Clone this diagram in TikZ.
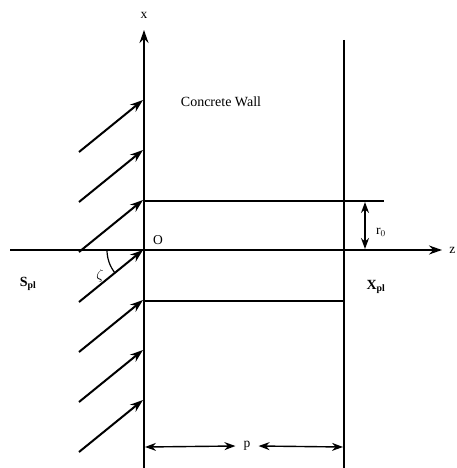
\documentclass[tikz,border=0pt]{standalone}
\usepackage{fontspec}
\setmainfont{Liberation Serif}
\usetikzlibrary{arrows.meta}
\begin{document}
\begin{tikzpicture}[x=1pt,y=-1pt,
  axis/.style={line width=1.8pt,-{Stealth[length=13pt,width=9pt]}},
  wall/.style={line width=1.5pt},
  ray/.style={line width=2pt,-{Stealth[length=13pt,width=9pt]}},
  dim/.style={line width=1.4pt,{Stealth[length=11pt,width=8pt]}-{Stealth[length=11pt,width=8pt]}},
  lbl/.style={inner sep=0pt,font=\fontsize{13.5}{15}\selectfont},
  blbl/.style={inner sep=0pt,font=\fontsize{14}{16}\selectfont\bfseries}]
\useasboundingbox (0,0) rectangle (456,468);
% axes
\coordinate (O) at (144,250);
\coordinate (xtop) at (144,30);
\coordinate (xbot) at (144,468);
\coordinate (zleft) at (10,250);
\coordinate (zright) at (442,250);
\draw[line width=1.8pt] (O) -- (xbot);
\draw[axis] (O) -- (xtop);
\draw[axis] (zleft) -- (zright);
\node[lbl] (xl) at (144,15) {x};
\node[lbl,anchor=east] (zl) at (455.5,250) {z};
% wall
\coordinate (wtop) at (344,40);
\coordinate (wbot) at (344,468);
\draw[wall] (wtop) -- (wbot);
\coordinate (ua) at (144,201);
\coordinate (ub) at (384,201);
\draw[wall] (ua) -- (ub);
\coordinate (la) at (144,301);
\coordinate (lb) at (344,301);
\draw[wall] (la) -- (lb);
\node[inner sep=0pt,font=\fontsize{14}{16}\selectfont] (cw) at (221,102) {Concrete Wall};
% incoming rays
\foreach \k in {-3,...,3}{
  \coordinate (t\k) at (143,{250+50*\k});
  \coordinate (s\k) at (79,{302+50*\k});
  \draw[ray] (s\k) -- (t\k);
}
% angle zeta
\draw[line width=1.2pt] (O) ++(180:37) arc[start angle=180,end angle=141,radius=37];
\node[lbl] (zeta) at (100,276) {$\zeta$};
\node[lbl] (ol) at (158,240) {O};
% r0
\coordinate (ra) at (365,202);
\coordinate (rb) at (365,249);
\draw[dim] (ra) -- (rb);
\node[lbl,anchor=west] (r0) at (376,232) {r$_0$};
% labels
\node[blbl] (spl) at (28,284) {S$_{\mathbf{pl}}$};
\node[blbl] (xpl) at (376,287) {X$_{\mathbf{pl}}$};
% p dimension
\coordinate (pa) at (145,447);
\coordinate (pb) at (343,447);
\node[lbl,fill=white,inner xsep=8pt] (pl) at (247,446) {p};
\draw[dim] (pl.west) -- (pa);
\draw[dim] (pl.east) -- (pb);
\end{tikzpicture}
\end{document}
